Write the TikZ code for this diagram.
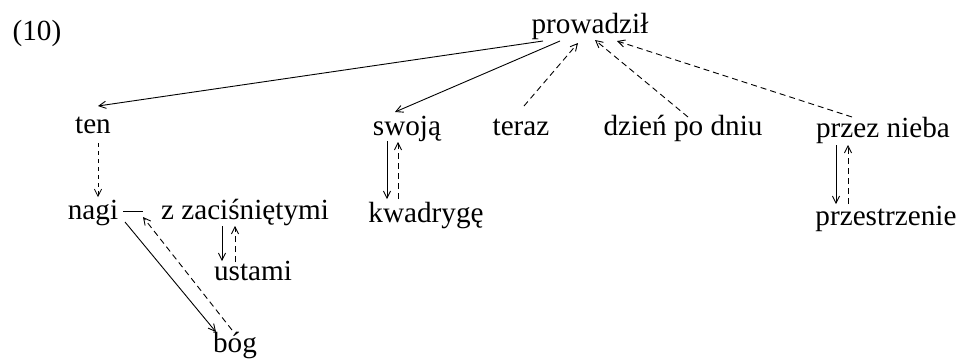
\documentclass[tikz,border=0pt]{standalone}
\usepackage{fontspec}
\setmainfont{Liberation Serif}
\usetikzlibrary{arrows.meta,calc}
\begin{document}
\begin{tikzpicture}[x=0.5pt,y=-0.5pt,
  word/.style={anchor=base,inner sep=0pt,font=\fontsize{14.6}{17}\selectfont},
  sol/.style={line width=0.45pt,-{Straight Barb[length=3.5pt,width=3.6pt]}},
  das/.style={line width=0.45pt,dash pattern=on 3pt off 2pt,-{Straight Barb[length=3.5pt,width=3.6pt]}},
  dfin/.style={line width=0.4pt,dash pattern=on 2pt off 2pt,-{Straight Barb[length=3.5pt,width=3.6pt]}},
  plain/.style={line width=0.45pt}]
\useasboundingbox[fill=white] (0,0) rectangle (960,360);
\node[word] (num) at (37,40) {(10)};
\node[word] (prow) at (590,33) {prowadził};
\node[word] (ten) at (93,133) {ten};
\node[word] (swoja) at (407,135) {swoją};
\node[word] (teraz) at (521,135) {teraz};
\node[word] (dzien) at (683,135) {dzień po dniu};
\node[word] (przez) at (883,137) {przez nieba};
\node[word] (nagi) at (93,219) {nagi};
\node[word] (zzac) at (245,219) {z zaciśniętymi};
\node[word] (kwad) at (426,222) {kwadrygę};
\node[word] (przest) at (886,225) {przestrzenie};
\node[word] (ustami) at (253,280) {ustami};
\node[word] (bog) at (235,352) {bóg};
% edges
\draw[sol] ($(prow.base)+(-47,8)$) -- ($(ten.base)+(5,-27)$);
\draw[sol] ($(prow.base)+(-30,8)$) -- ($(swoja.base)+(-12,-23)$);
\draw[das] ($(teraz.base)+(3,-29)$) -- ($(prow.base)+(-12,10)$);
\draw[das] ($(dzien.base)+(5,-18)$) -- ($(prow.base)+(5,7)$);
\draw[das] ($(przez.base)+(-31,-20)$) -- ($(prow.base)+(27,8)$);
\draw[dfin] ($(ten.base)+(5,10)$) -- ($(nagi.base)+(5,-22)$);
\draw[plain] ($(nagi.base)+(30,-8)$) -- ($(zzac.base)+(-102,-8)$);
\draw[sol] ($(nagi.base)+(32,3)$) -- ($(bog.base)+(-19,-20)$);
\draw[das] ($(bog.base)+(-3,-22)$) -- ($(nagi.base)+(50,-2)$);
\draw[sol] ($(zzac.base)+(-23,7)$) -- ($(ustami.base)+(-31,-19)$);
\draw[das] ($(ustami.base)+(-18,-18)$) -- ($(zzac.base)+(-10,7)$);
\draw[sol] ($(swoja.base)+(-20,6)$) -- ($(kwad.base)+(-39,-23)$);
\draw[das] ($(kwad.base)+(-28,-23)$) -- ($(swoja.base)+(-9,7)$);
\draw[sol] ($(przez.base)+(-47,8)$) -- ($(przest.base)+(-50,-21)$);
\draw[das] ($(przest.base)+(-38,-21)$) -- ($(przez.base)+(-35,8)$);
\end{tikzpicture}
\end{document}
